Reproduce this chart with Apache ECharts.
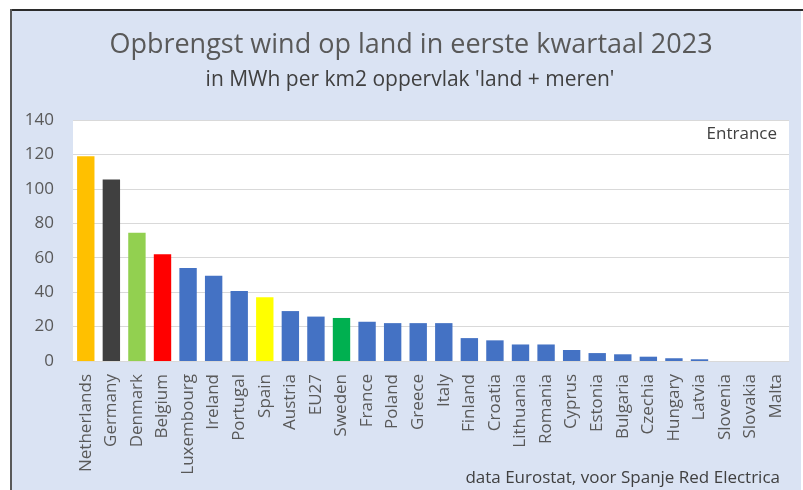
<!DOCTYPE html>
<html>
<head>
<meta charset="utf-8">
<script src="https://cdn.jsdelivr.net/npm/echarts@6/dist/echarts.min.js"></script>
<style>
	html, body { margin: 0; padding: 0; background: #fff; }
	#main { width: 803px; height: 490px; }
</style>
</head>
<body>
<div id="main"></div>
<script>
	// landen, gesorteerd op opbrengst
	var countries = ['Netherlands', 'Germany', 'Denmark', 'Belgium', 'Luxembourg', 'Ireland', 'Portugal', 'Spain',
		'Austria', 'EU27', 'Sweden', 'France', 'Poland', 'Greece', 'Italy', 'Finland', 'Croatia', 'Lithuania',
		'Romania', 'Cyprus', 'Estonia', 'Bulgaria', 'Czechia', 'Hungary', 'Latvia', 'Slovenia', 'Slovakia', 'Malta'];
	var values = [119, 105.5, 74.5, 62, 54, 49.5, 40.7, 37, 29, 25.8, 25, 22.8, 22, 22, 22, 13.3, 12, 9.6,
		9.6, 6.4, 4.6, 3.9, 2.5, 1.6, 1, 0, 0, 0];
	var colors = {Netherlands: '#ffc000', Germany: '#404040', Denmark: '#92d050', Belgium: '#ff0000', Spain: '#ffff00', Sweden: '#00b050'};
	var yTicks = [0, 20, 40, 60, 80, 100, 120, 140];

	var font = '"Open Sans", sans-serif';
	var myChart = echarts.init(document.getElementById('main'));
	myChart.setOption({
		backgroundColor: '#fff',
		animation: false,
		graphic: [
			{type: 'rect', shape: {x: 10, y: 9, width: 791, height: 481}, style: {fill: '#dae3f3'}, z: -10},
			{type: 'rect', shape: {x: 10, y: 9, width: 793, height: 2}, style: {fill: '#2b2b2b'}, z: -9},
			{type: 'rect', shape: {x: 10, y: 9, width: 2, height: 481}, style: {fill: '#595959'}, z: -9},
			// titel en ondertitel
			{type: 'text', x: 411, y: 45, style: {text: 'Opbrengst wind op land in eerste kwartaal 2023', align: 'center', verticalAlign: 'middle',
				fill: '#595959', font: '27px ' + font}},
			{type: 'text', x: 410, y: 80, style: {text: "in MWh per km2 oppervlak 'land + meren'", align: 'center', verticalAlign: 'middle',
				fill: '#404040', font: '21px ' + font}},
			{type: 'text', right: 26, top: 126, style: {text: 'Entrance', fill: '#404040', font: '17px ' + font}},
			{type: 'text', right: 23, top: 470, style: {text: 'data Eurostat, voor Spanje Red Electrica', fill: '#404040', font: '17px ' + font}}
		],
		grid: {left: 73, right: 14, top: 120, bottom: 129, show: true, backgroundColor: '#fff', borderWidth: 0},
		xAxis: {
			type: 'category',
			data: countries,
			axisLine: {lineStyle: {color: '#d9d9d9'}},
			axisTick: {show: false},
			axisLabel: {interval: 0, rotate: 90, margin: 13, color: '#595959', fontSize: 17, fontFamily: font}
		},
		yAxis: {
			type: 'value',
			min: yTicks[0],
			max: yTicks[yTicks.length - 1],
			interval: 20,
			axisLine: {show: false},
			axisTick: {show: false},
			splitLine: {lineStyle: {color: '#d9d9d9'}},
			axisLabel: {margin: 19, color: '#595959', fontSize: 17, fontFamily: font}
		},
		series: [{
			type: 'bar',
			barCategoryGap: '32%',
			data: values.map(function (v, i) {
				return {value: v, itemStyle: {color: colors[countries[i]] || '#4472c4'}};
			})
		}]
	});
</script>
</body>
</html>
